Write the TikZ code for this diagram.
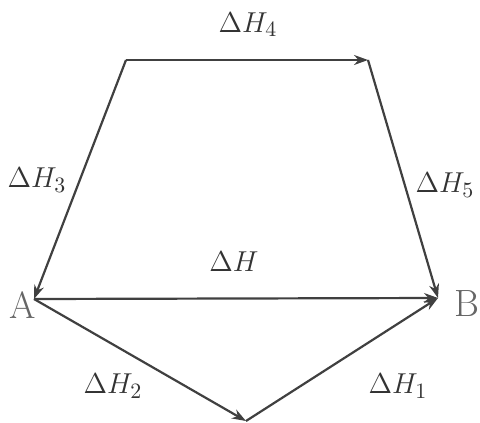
\documentclass[tikz,border=0pt]{standalone}
\usepackage{amsmath}
\usetikzlibrary{arrows.meta}

\begin{document}
\begin{tikzpicture}[
		x=0.5pt, y=-0.5pt,
		>={Stealth[length=7pt, width=5pt]},
		fl/.style={->, line width=1.1pt, draw=black!75, shorten >=0pt},
		rot/.style={font=\fontsize{15}{17}\selectfont, inner sep=1pt, text=black!80},
		ponto/.style={font=\fontsize{19}{21}\selectfont, inner sep=0pt, text=black!60}
	]
	\useasboundingbox (0,0) rectangle (480,422);

	\coordinate (p3) at (126,60);
	\coordinate (p4) at (368,60);
	\coordinate (a) at (34,299);
	\coordinate (b) at (438,298);
	\coordinate (c) at (246,421);

	\node[ponto] (la) at (23,305) {A};
	\node[ponto] (lb) at (467,304) {B};

	\draw[fl] (p3) -- (p4);
	\draw[fl] (p3) -- (a);
	\draw[fl] (p4) -- (b);
	\draw[fl] (a) -- (b);
	\draw[fl] (a) -- (c);
	\draw[fl] (c) -- (b);

	\node[rot] (h4) at (248,25) {$\Delta H_4$};
	\node[rot] (h3) at (37,180) {$\Delta H_3$};
	\node[rot] (h5) at (445,185) {$\Delta H_5$};
	\node[rot] (h) at (234,262) {$\Delta H$};
	\node[rot] (h2) at (113,386) {$\Delta H_2$};
	\node[rot] (h1) at (398,386) {$\Delta H_1$};
\end{tikzpicture}
\end{document}
